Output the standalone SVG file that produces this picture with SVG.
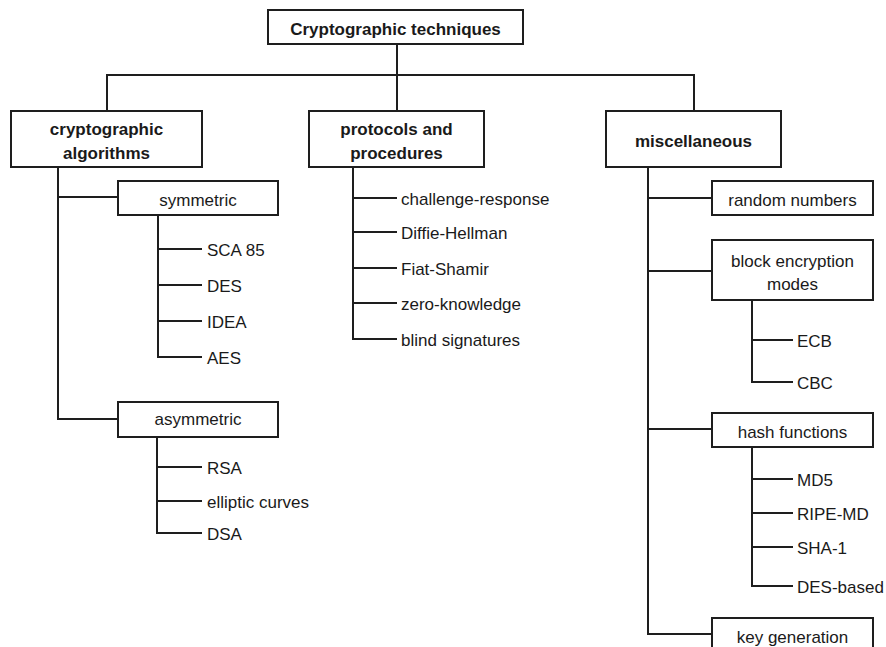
<svg xmlns="http://www.w3.org/2000/svg" width="886" height="647" viewBox="0 0 886 647">
  <style>
    .box { fill: #ffffff; stroke: #1e1e1e; stroke-width: 2; }
    .wire { fill: none; stroke: #1e1e1e; stroke-width: 2; stroke-linejoin: miter; }
    text { font-family: "Liberation Sans", Arial, Helvetica, sans-serif; font-size: 17px; fill: #1a1a1a; }
    .head { font-weight: bold; text-anchor: middle; }
    .mid { text-anchor: middle; }
  </style>
  <rect width="886" height="647" fill="#ffffff"/>

  <!-- connectors -->
  <g id="connectors" class="wire">
    <!-- root to main branches -->
    <path d="M397 44 V111 M107 111 V75 H694 V111"/>
    <!-- cryptographic algorithms -->
    <path d="M58 167 V419 H118 M58 197 H118"/>
    <path d="M158 215 V357 H202 M158 249 H202 M158 285 H202 M158 321 H202"/>
    <path d="M157 437 V533 H202 M157 467 H202 M157 501 H202"/>
    <!-- protocols and procedures -->
    <path d="M353 167 V339 H397 M353 198 H397 M353 232 H397 M353 268 H397 M353 303 H397"/>
    <!-- miscellaneous -->
    <path d="M648 167 V634 H712 M648 198 H712 M648 271 H712 M648 429 H712"/>
    <path d="M752 300 V382 H793 M752 340 H793"/>
    <path d="M752 447 V586 H793 M752 479 H793 M752 513 H793 M752 547 H793"/>
  </g>

  <!-- root -->
  <g id="root">
    <rect class="box" x="268" y="10" width="255" height="34"/>
    <text class="head" x="395.5" y="35">Cryptographic techniques</text>
  </g>

  <!-- cryptographic algorithms branch -->
  <g id="algorithms">
    <rect class="box" x="11" y="111" width="191" height="56"/>
    <text class="head" x="106.5" y="135">cryptographic</text>
    <text class="head" x="106.5" y="159">algorithms</text>
  </g>
  <g id="symmetric">
    <rect class="box" x="118" y="181" width="160" height="34"/>
    <text class="mid" x="198" y="206">symmetric</text>
  </g>
  <g id="sym-leaves">
    <text x="207" y="256">SCA 85</text>
    <text x="207" y="292">DES</text>
    <text x="207" y="328">IDEA</text>
    <text x="207" y="364">AES</text>
  </g>
  <g id="asymmetric">
    <rect class="box" x="118" y="402" width="160" height="35"/>
    <text class="mid" x="198" y="425">asymmetric</text>
  </g>
  <g id="asym-leaves">
    <text x="207" y="474">RSA</text>
    <text x="207" y="508">elliptic curves</text>
    <text x="207" y="540">DSA</text>
  </g>

  <!-- protocols and procedures branch -->
  <g id="protocols">
    <rect class="box" x="309" y="111" width="175" height="56"/>
    <text class="head" x="396.5" y="135">protocols and</text>
    <text class="head" x="396.5" y="159">procedures</text>
  </g>
  <g id="protocol-leaves">
    <text x="401" y="205">challenge-response</text>
    <text x="401" y="239">Diffie-Hellman</text>
    <text x="401" y="275">Fiat-Shamir</text>
    <text x="401" y="310">zero-knowledge</text>
    <text x="401" y="346">blind signatures</text>
  </g>

  <!-- miscellaneous branch -->
  <g id="miscellaneous">
    <rect class="box" x="606" y="111" width="175" height="56"/>
    <text class="head" x="693.5" y="147">miscellaneous</text>
  </g>
  <g id="random-numbers">
    <rect class="box" x="712" y="181" width="161" height="34"/>
    <text class="mid" x="792.5" y="206">random numbers</text>
  </g>
  <g id="block-modes">
    <rect class="box" x="712" y="240" width="161" height="60"/>
    <text class="mid" x="792.5" y="267">block encryption</text>
    <text class="mid" x="792.5" y="290">modes</text>
  </g>
  <g id="mode-leaves">
    <text x="797" y="347">ECB</text>
    <text x="797" y="389">CBC</text>
  </g>
  <g id="hash-functions">
    <rect class="box" x="712" y="413" width="161" height="34"/>
    <text class="mid" x="792.5" y="438">hash functions</text>
  </g>
  <g id="hash-leaves">
    <text x="797" y="486">MD5</text>
    <text x="797" y="520">RIPE-MD</text>
    <text x="797" y="554">SHA-1</text>
    <text x="797" y="593">DES-based</text>
  </g>
  <g id="key-generation">
    <rect class="box" x="712" y="618" width="161" height="40"/>
    <text class="mid" x="792.5" y="643">key generation</text>
  </g>
</svg>
